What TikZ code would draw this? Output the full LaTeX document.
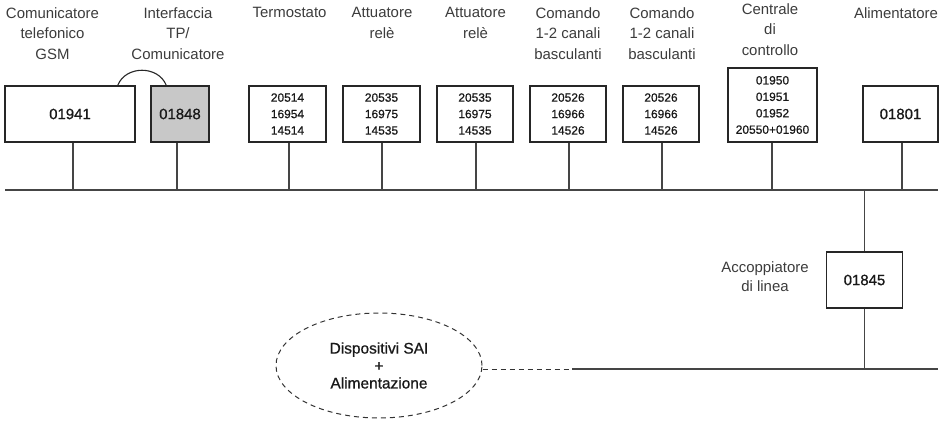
\documentclass[tikz,border=0pt]{standalone}
\usepackage{fontspec}
\setmainfont{Liberation Sans}
\newfontfamily\medfont{Liberation Sans}[FakeBold=0.8]
\usetikzlibrary{shapes.geometric,calc}
\definecolor{lblgray}{HTML}{3C3C3C}
\definecolor{linegray}{HTML}{454545}
\definecolor{boxfill}{HTML}{C8C8C8}
\tikzset{
  lbl/.style={font=\fontsize{15}{21}\selectfont, align=center, anchor=north, inner sep=0pt, text=lblgray},
  bigbox/.style={draw=black!85, line width=1.5pt, minimum width=#1, minimum height=56bp, inner sep=0pt,
                 font=\medfont\fontsize{15}{18}\selectfont, text=black!90},
  smallbox/.style={draw=black!85, line width=1.5pt, minimum width=#1, minimum height=56bp, inner sep=0pt,
                 font=\medfont\fontsize{12}{16.5}\selectfont, align=center, text=black!90},
  bus/.style={draw=linegray, line width=1.2pt},
  drop/.style={draw=linegray, line width=1.1pt},
  dashline/.style={draw=black!80, line width=1pt, dash pattern=on 5bp off 4bp},
}
\begin{document}
\begin{tikzpicture}[x=1bp,y=-1bp]
\fill[white] (0,0) rectangle (949,423);
\useasboundingbox (0,0) rectangle (949,423);

% labels
\node[lbl] (l1) at (52.5,7) {Comunicatore\\telefonico\\GSM};
\node[lbl] (l2) at (178,7) {Interfaccia\\TP/\\Comunicatore};
\node[lbl] (l3) at (289.5,7) {Termostato};
\node[lbl] (l4) at (382,7) {Attuatore\\relè};
\node[lbl] (l5) at (475.5,7) {Attuatore\\relè};
\node[lbl] (l6) at (568,7) {Comando\\1-2 canali\\basculanti};
\node[lbl] (l7) at (662,7) {Comando\\1-2 canali\\basculanti};
\node[lbl] (l8) at (770,3) {Centrale\\di\\controllo};
\node[lbl] (l9) at (896,7) {Alimentatore};

% boxes
\node[bigbox=130bp] (b1) at (70,114) {01941};
\node[bigbox=58bp, fill=boxfill] (b2) at (180,114) {01848};
\node[smallbox=77bp] (b3) at (287.5,114) {20514\\16954\\14514};
\node[smallbox=77bp] (b4) at (381.5,114) {20535\\16975\\14535};
\node[smallbox=76bp] (b5) at (475,114) {20535\\16975\\14535};
\node[smallbox=76bp] (b6) at (568,114) {20526\\16966\\14526};
\node[smallbox=76bp] (b7) at (661,114) {20526\\16966\\14526};
\node[smallbox=89bp, minimum height=74bp] (b8) at (772.5,105) {01950\\01951\\01952\\20550+01960};
\node[bigbox=75bp] (b9) at (900.5,114) {01801};
\node[bigbox=76bp] (acc) at (864.5,280) {01845};
\node[lbl, anchor=north] (accl) at (765,261) {Accoppiatore\\[-1bp]di linea};

% ellipse
\node[ellipse, draw=black!80, line width=1pt, dash pattern=on 5bp off 4bp,
      minimum width=206bp, minimum height=105bp, inner sep=0pt,
      font=\medfont\fontsize{15.5}{17.5}\selectfont, align=center, text=black!90] (ell) at (379,365.5)
      {Dispositivi SAI\\+\\Alimentazione};

% bus coordinates
\coordinate (busL) at (5,190);
\coordinate (busR) at (938,190);
\coordinate (lowL) at (572,369);
\coordinate (lowR) at (938,369);
\coordinate (j1) at (73,190);
\coordinate (j2) at (177,190);
\coordinate (j3) at (289,190);
\coordinate (j4) at (382,190);
\coordinate (j5) at (476,190);
\coordinate (j6) at (569,190);
\coordinate (j7) at (662,190);
\coordinate (j8) at (772,190);
\coordinate (j9) at (902,190);
\coordinate (jd) at (864.5,190);
\coordinate (jl) at (864.5,369);

\draw[bus] (busL) -- (busR);
\draw[bus] (lowL) -- (lowR);
\foreach \b/\j in {b1/j1,b2/j2,b3/j3,b4/j4,b5/j5,b6/j6,b7/j7,b8/j8,b9/j9}
  \draw[drop] (\b.south -| \j) -- (\j);
\draw[drop] (jd) -- (acc.north);
\draw[drop] (acc.south) -- (jl);
\draw[dashline] (ell.east |- lowL) -- (lowL);

% arc between GSM communicator and interface
\draw[draw=black!85, line width=1.1pt] ($(b1.north east)+(-18,0)$) .. controls ($(b1.north east)+(-10,-20)$) and ($(b2.north west)+(8,-20)$) .. ($(b2.north west)+(16,0)$);
\end{tikzpicture}
\end{document}
